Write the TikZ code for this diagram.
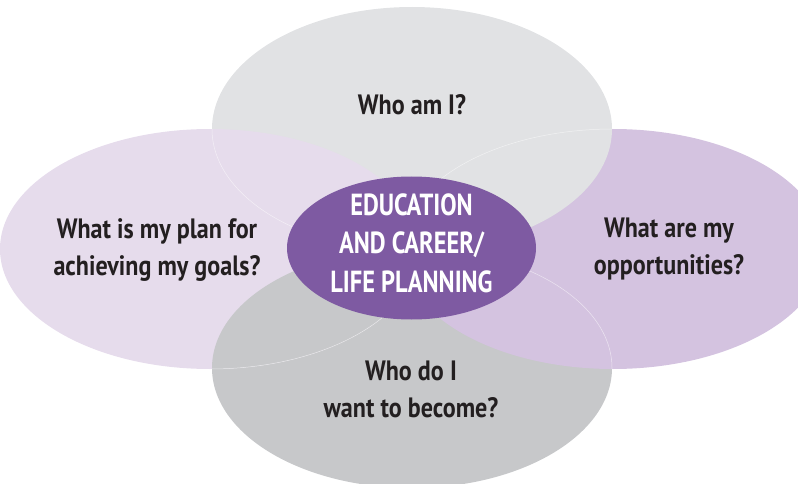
\documentclass[tikz,border=0pt]{standalone}
\usepackage{fontspec}
\newfontfamily\condfont{PT Sans}[FakeStretch=0.86]
\newfontfamily\capsfont{PT Sans}[FakeStretch=0.8]
\definecolor{topgray}{HTML}{E1E2E4}
\definecolor{botgray}{HTML}{C7C8CA}
\definecolor{leftlav}{HTML}{E6DCEC}
\definecolor{rightlav}{HTML}{D4C3E0}
\definecolor{centerpurple}{HTML}{7E5AA2}
\definecolor{txt}{HTML}{231F20}
\tikzset{
  question/.style={text=txt, align=center, font=\condfont\bfseries\fontsize{28}{37}\selectfont, anchor=base},
  centertext/.style={text=white, align=center, font=\capsfont\bfseries\fontsize{30.5}{38.5}\selectfont, anchor=base},
  seam/.style={draw=white, line width=0.5pt, opacity=0.55}
}
\begin{document}
\begin{tikzpicture}[x=1pt,y=-1pt]
\useasboundingbox (0,0) rectangle (798,484);
\def\topE{(412,129) ellipse [x radius=200pt, y radius=122pt]}
\def\botE{(412,368) ellipse [x radius=200pt, y radius=120pt]}
\def\leftE{(210,249) ellipse [x radius=210pt, y radius=120pt]}
\def\rightE{(613,249) ellipse [x radius=212pt, y radius=120pt]}
% cyclic overlap: left over top, top over right, right over bottom, bottom over left
\fill[botgray] \botE;
\fill[rightlav] \rightE;
\fill[topgray] \topE;
\fill[leftlav] \leftE;
\begin{scope}
  \clip \leftE;
  \fill[botgray] \botE;
\end{scope}
% seams of the covered ellipses
\begin{scope}
  \clip \leftE;
  \draw[seam] \topE;
\end{scope}
\begin{scope}
  \clip \topE;
  \draw[seam] \rightE;
\end{scope}
\begin{scope}
  \clip \rightE;
  \draw[seam] \botE;
\end{scope}
\begin{scope}
  \clip \botE;
  \draw[seam] \leftE;
\end{scope}
% centre
\fill[centerpurple] (411.5,248) ellipse [x radius=124.5pt, y radius=71.5pt];
\node[centertext] (center) at (411.5,292) {EDUCATION\\AND CAREER/\\LIFE PLANNING};
\node[question] (who) at (412,115) {Who am I?};
\node[question] (plan) at (157,275) {What is my plan for\\achieving my goals?};
\node[question] (opp) at (669,274) {What are my\\opportunities?};
\node[question] (become) at (411,417) {Who do I\\want to become?};
\end{tikzpicture}
\end{document}
